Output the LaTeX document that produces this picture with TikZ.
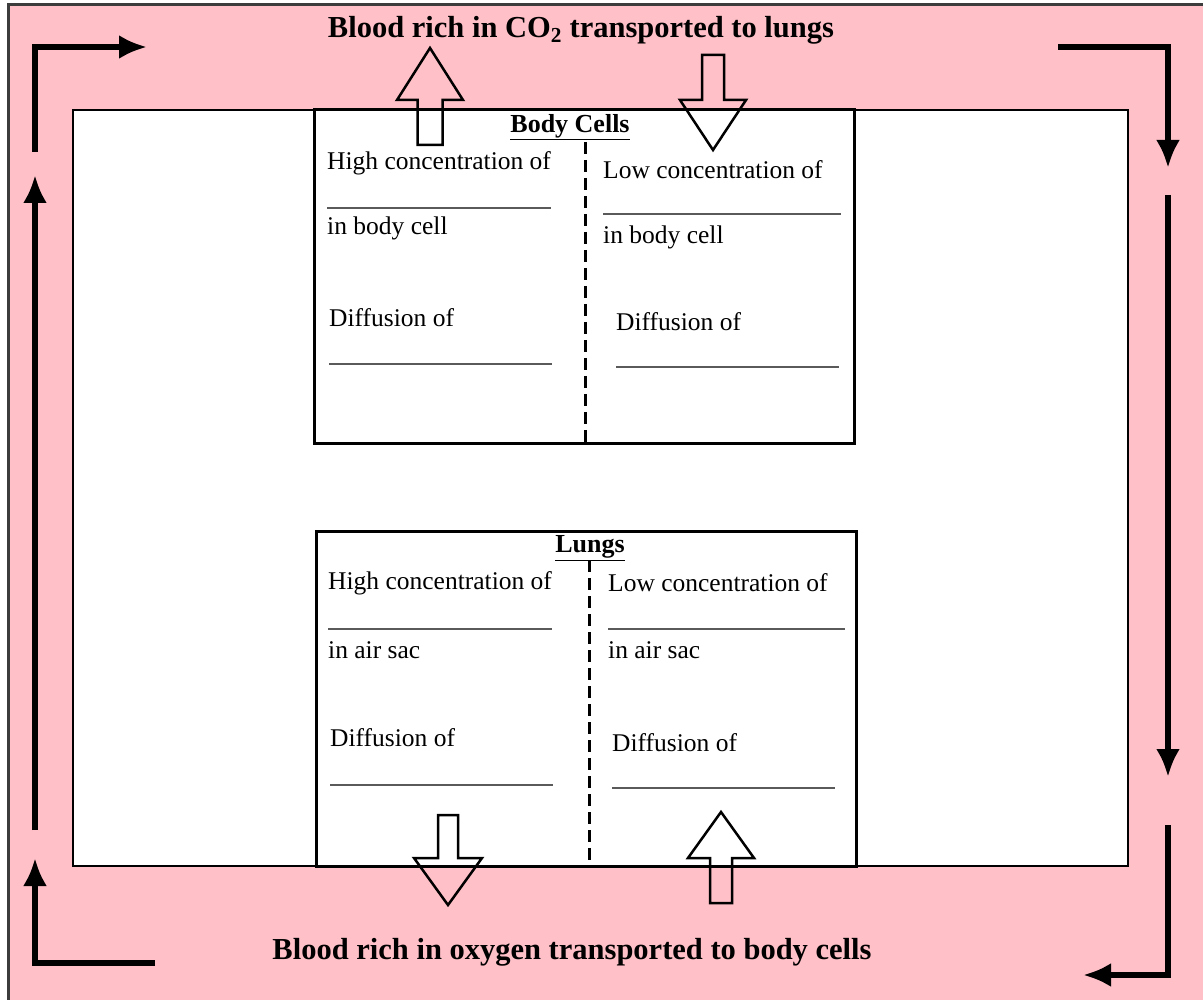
\documentclass[tikz,border=0pt]{standalone}
\usepackage{fontspec}
\setmainfont{Liberation Serif}
\usetikzlibrary{arrows.meta,positioning}
\definecolor{blush}{HTML}{FFC0C8}
\definecolor{rim}{HTML}{3C3C3C}
\definecolor{rulegray}{HTML}{5A5A5A}

\begin{document}
\begin{tikzpicture}[x=1pt,y=-1pt,>={Latex[length=28pt,width=24pt]},
  cell/.style={anchor=west,inner sep=0pt,font=\fontsize{25.5}{30}\selectfont},
  head/.style={inner sep=0pt,font=\fontsize{26}{30}\selectfont\bfseries},
  title/.style={inner sep=0pt,font=\fontsize{30.5}{34}\selectfont\bfseries},
  flow/.style={line width=5.5pt,->},
  hollow/.style={line width=2.5pt},
  box/.style={draw,line width=3pt},
  divider/.style={line width=3pt,dash pattern=on 12pt off 6pt},
  fillin/.style={rulegray,line width=2.2pt}]
 \useasboundingbox (0,0) rectangle (1203,1000);
 \fill[blush] (8,5) rectangle (1203,1000);
 \draw[rim,line width=3pt] (8,1000)--(8,5)--(1203,5);
 \draw[fill=white,line width=2.5pt] (73,110) rectangle (1128,866);
 \draw[box] (314,110) rectangle (854,443);
 \draw[box] (316,531) rectangle (856,866);
 \draw[divider] (585,142)--(585,443);
 \draw[divider] (589,560)--(589,866);

 \node[title] (co2) at (581,30) {Blood rich in CO\textsubscript{2} transported to lungs};
 \node[title] (oxy) at (572,952) {Blood rich in oxygen transported to body cells};

 \node[head] (bchead) at (570,127) {\underline{Body Cells}};
 \node[cell] (bchigh) at (327,163) {High concentration of};
 \node[cell] (bcin) at (327,228) {in body cell};
 \node[cell] (bcdiff) at (329,318) {Diffusion of};
 \node[cell] (bclow) at (603,170) {Low concentration of};
 \node[cell] (bcin2) at (603,237) {in body cell};
 \node[cell] (bcdiff2) at (616,322) {Diffusion of};
 \draw[fillin] (327,208)--(551,208);
 \draw[fillin] (329,364)--(552,364);
 \draw[fillin] (603,214)--(841,214);
 \draw[fillin] (616,367)--(839,367);

 \node[head] (lghead) at (590,548) {\underline{Lungs}};
 \node[cell] (lghigh) at (328,583) {High concentration of};
 \node[cell] (lgin) at (328,650) {in air sac};
 \node[cell] (lgdiff) at (330,738) {Diffusion of};
 \node[cell] (lglow) at (608,583) {Low concentration of};
 \node[cell] (lgin2) at (608,650) {in air sac};
 \node[cell] (lgdiff2) at (612,743) {Diffusion of};
 \draw[fillin] (328,629)--(552,629);
 \draw[fillin] (330,785)--(553,785);
 \draw[fillin] (608,629)--(845,629);
 \draw[fillin] (612,788)--(835,788);

 \foreach \cx/\hw/\hh/\ys/\yb/\yt in {430/12.5/33/145/100/48,713/11/33/55/100/150,
   448/10/34/815/858/905,721/11/33/903/858/812}
  \draw[hollow] (\cx-\hw,\ys)--(\cx-\hw,\yb)--(\cx-\hh,\yb)--(\cx,\yt)
   --(\cx+\hh,\yb)--(\cx+\hw,\yb)--(\cx+\hw,\ys)--cycle;

 \coordinate (tlA) at (35,152);
 \coordinate (tlB) at (147,47);
 \coordinate (lA) at (35,830);
 \coordinate (lB) at (35,175);
 \coordinate (blA) at (155,963);
 \coordinate (blB) at (35,858);
 \coordinate (trA) at (1058,47);
 \coordinate (trB) at (1168,168);
 \coordinate (rA) at (1168,195);
 \coordinate (rB) at (1168,777);
 \coordinate (brA) at (1168,825);
 \coordinate (brB) at (1083,975);
 \draw[flow] (tlA) |- (tlB);
 \draw[flow] (lA) -- (lB);
 \draw[flow] (blA) -| (blB);
 \draw[flow] (trA) -| (trB);
 \draw[flow] (rA) -- (rB);
 \draw[flow] (brA) |- (brB);
\end{tikzpicture}
\end{document}
